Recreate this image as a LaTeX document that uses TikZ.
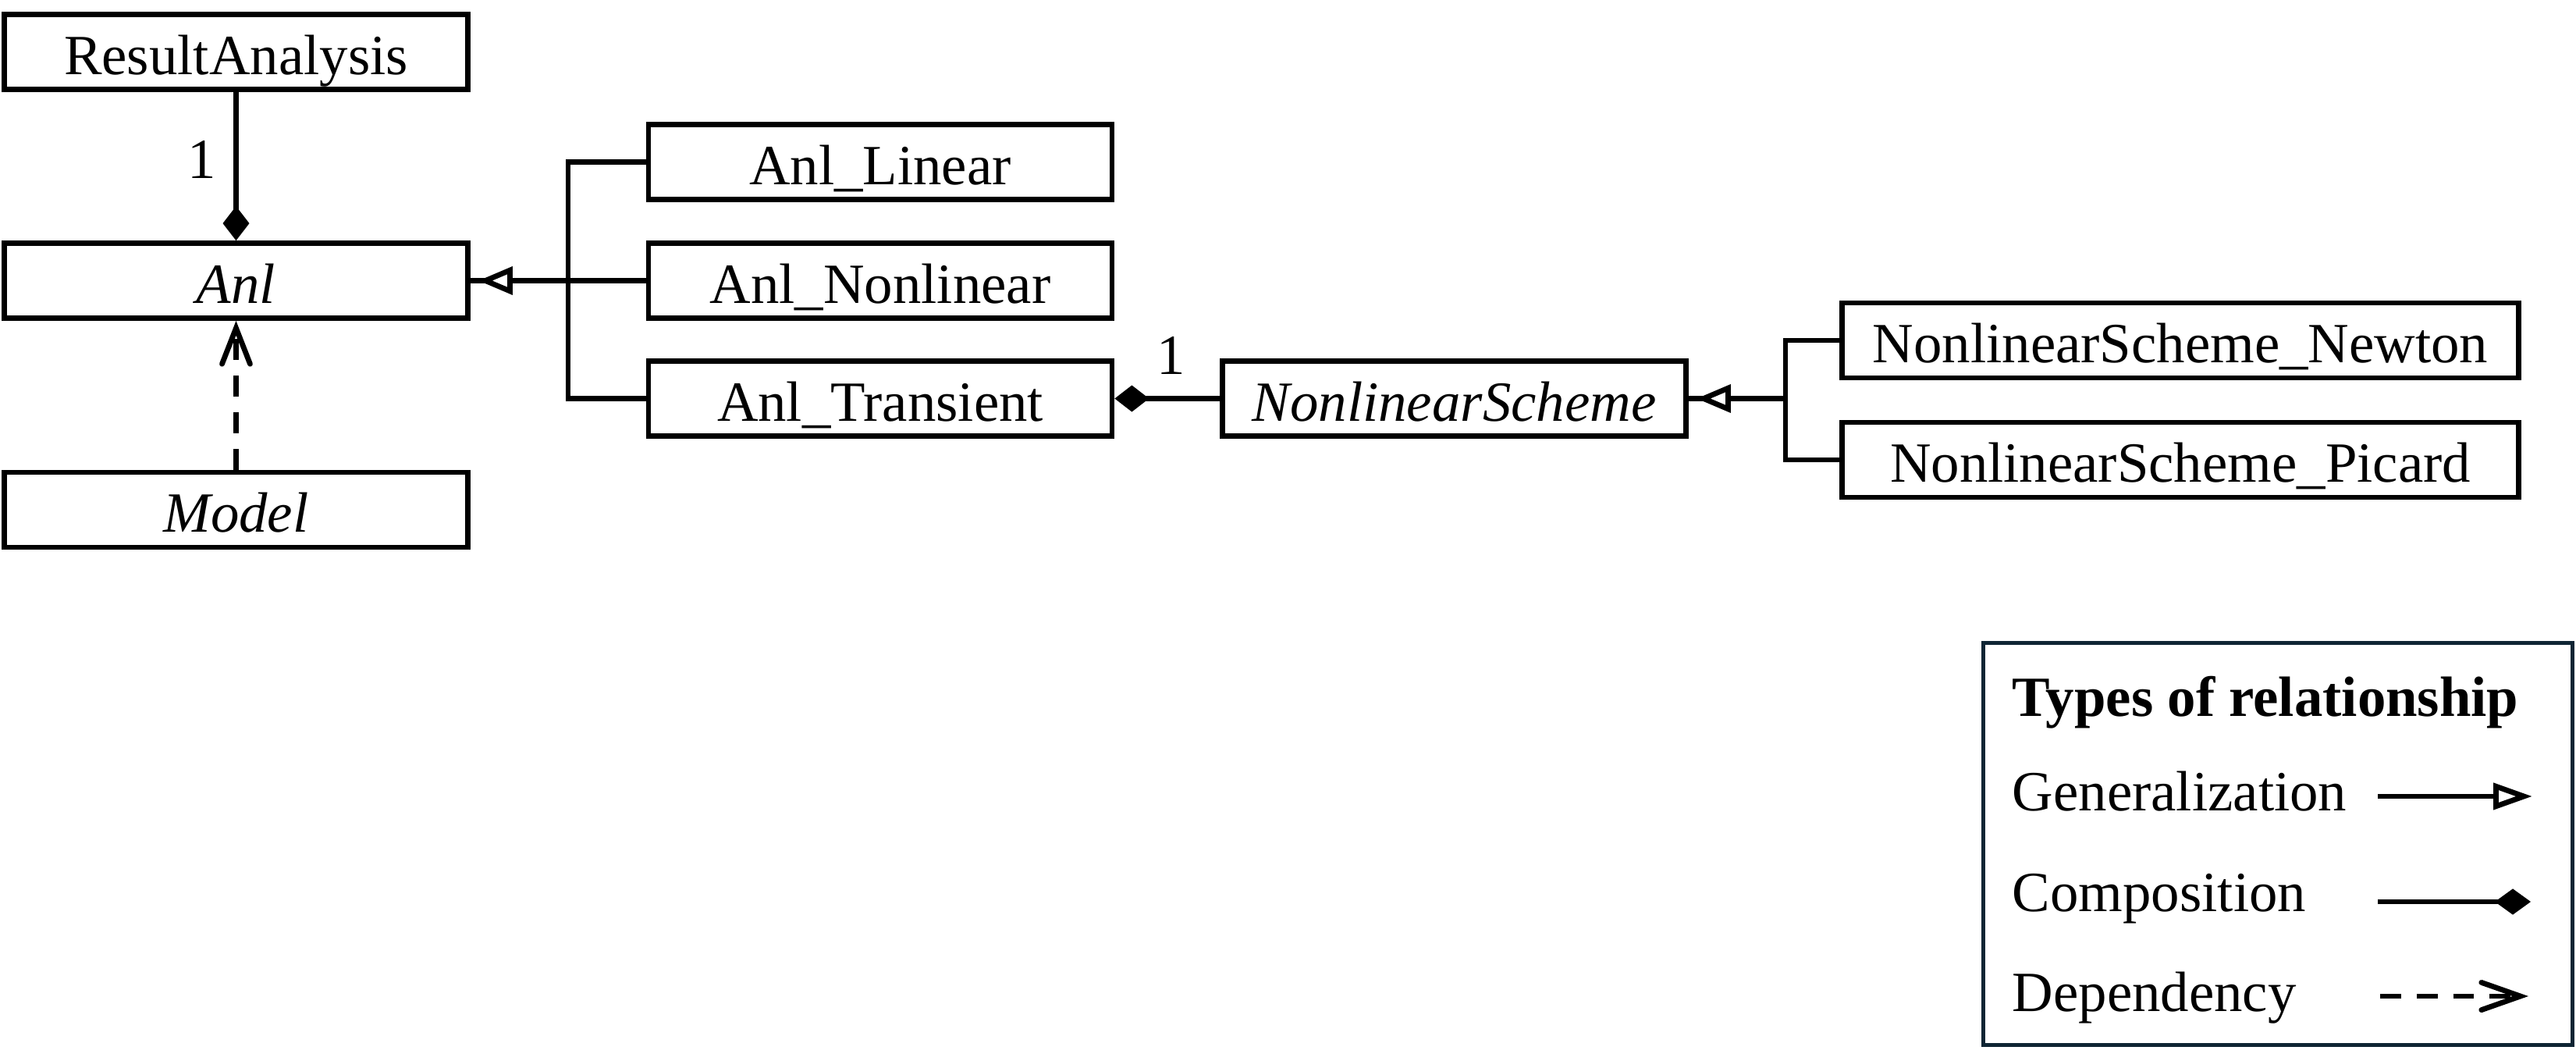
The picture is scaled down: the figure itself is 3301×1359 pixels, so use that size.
\documentclass[tikz,border=0pt]{standalone}
\usepackage{fontspec}
\setmainfont{Liberation Serif}
\usetikzlibrary{arrows.meta}
\definecolor{legendc}{HTML}{0F2534}
\begin{document}
\begin{tikzpicture}[x=0.25pt,y=-0.25pt,
  txt/.style={font=\fontsize{18.2}{22}\selectfont, inner sep=0pt},
  cls/.style={txt, draw, line width=1.7pt, minimum width=148.5pt, minimum height=24pt, text height=14.3pt, text depth=0pt},
  wcls/.style={cls, minimum width=216.75pt},
  conn/.style={line width=1.7pt},
  comp/.style={conn, {Diamond[length=11pt,width=8.5pt]}-},
  gen/.style={conn, {Triangle[open,fill=white,length=11pt,width=8.75pt]}-},
  dep/.style={conn, dash pattern=on 6.7pt off 5pt, -{Straight Barb[length=11.5pt,width=9pt,line cap=round]}},
  lgen/.style={conn, -{Triangle[open,fill=white,length=12.5pt,width=8.3pt]}},
  lcomp/.style={conn, -{Diamond[length=11.5pt,width=8.3pt]}},
  ldep/.style={conn, dash pattern=on 6.7pt off 5pt, -{Straight Barb[length=12.5pt,width=8.8pt,line cap=round]}},
]
\useasboundingbox (0,0) rectangle (3301,1359);

% classes
\node[cls] (ra) at (302.5,66.5) {ResultAnalysis};
\node[cls] (anl) at (302.5,359.5) {\textit{Anl}};
\node[cls] (model) at (302.5,653) {\textit{Model}};
\node[cls] (lin) at (1128,207.5) {Anl\_Linear};
\node[cls] (nonlin) at (1128,359.5) {Anl\_Nonlinear};
\node[cls] (trans) at (1128,510.5) {Anl\_Transient};
\node[cls] (ns) at (1863.5,510.5) {\textit{NonlinearScheme}};
\node[wcls] (newton) at (2794,436) {NonlinearScheme\_Newton};
\node[wcls] (picard) at (2794,589) {NonlinearScheme\_Picard};

% ResultAnalysis -- Anl composition
\draw[comp] (anl.north) -- (ra.south);
\node[txt] (m1) at (259,204) {1};

% Model -> Anl dependency
\draw[dep] (model.north) -- (anl.south);

% Anl generalization tree
\coordinate (b1) at (728,359.5);
\draw[conn] (anl.east) -- (b1);
\draw[gen, shorten <=2.5pt] (anl.east) -- (b1);
\draw[conn] (lin.west) -- (lin.west -| b1) -- (trans.west -| b1) -- (trans.west);
\draw[conn] (nonlin.west) -- (b1);

% Anl_Transient -- NonlinearScheme composition
\draw[comp] (trans.east) -- (ns.west);
\node[txt] (m2) at (1501,455) {1};

% NonlinearScheme generalization tree
\coordinate (b2) at (2288,510.5);
\draw[conn] (ns.east) -- (b2);
\draw[gen, shorten <=2.5pt] (ns.east) -- (b2);
\draw[conn] (newton.west) -- (newton.west -| b2) -- (picard.west -| b2) -- (picard.west);

% legend
\node[draw=legendc, line width=1.3pt, minimum width=188.8pt, minimum height=128.8pt, inner sep=0pt] (legend) at (2919,1081) {};
\node[txt, anchor=base west] (lt) at (2578,917) {\textbf{Types of relationship}};
\node[txt, anchor=base west] (lg) at (2578,1038) {Generalization};
\node[txt, anchor=base west] (lc) at (2578,1167) {Composition};
\node[txt, anchor=base west] (ld) at (2578,1295) {Dependency};
\coordinate (ga) at (3047,1020); \coordinate (gb) at (3245,1020);
\coordinate (ca) at (3047,1155); \coordinate (cb) at (3243,1155);
\coordinate (da) at (3050,1276); \coordinate (db) at (3240,1276);
\draw[lgen] (ga) -- (gb);
\draw[lcomp] (ca) -- (cb);
\draw[ldep] (da) -- (db);
\end{tikzpicture}
\end{document}
